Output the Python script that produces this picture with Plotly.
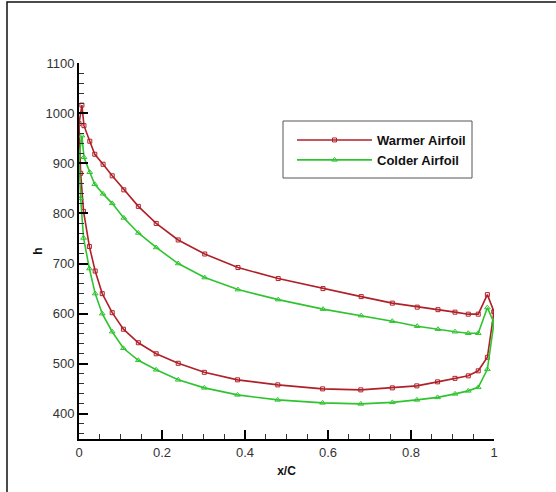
import plotly.graph_objects as go

# Upper surface: trailing edge -> leading edge
x_upper = [1.0, 0.984, 0.962, 0.938, 0.906, 0.865, 0.815, 0.755, 0.680, 0.588, 0.480, 0.383,
           0.303, 0.239, 0.186, 0.143, 0.108, 0.080, 0.058, 0.038, 0.026, 0.012, 0.007, 0.0]
warm_upper = [604, 638, 599, 599, 603, 608, 613, 621, 634, 650, 670, 692,
              719, 747, 780, 814, 847, 875, 898, 918, 944, 975, 1016, 979]
cold_upper = [582, 612, 561, 561, 564, 569, 575, 585, 596, 609, 628, 648,
              672, 700, 732, 761, 791, 820, 839, 858, 882, 912, 955, 913]

# Lower surface: leading edge -> trailing edge
x_lower = [0.004, 0.011, 0.025, 0.039, 0.056, 0.080, 0.107, 0.143, 0.186, 0.239, 0.302, 0.382,
           0.479, 0.587, 0.679, 0.755, 0.814, 0.864, 0.906, 0.938, 0.962, 0.984, 1.0]
warm_lower = [880, 804, 734, 685, 640, 602, 569, 542, 520, 501, 483, 468,
              458, 450, 448, 452, 456, 464, 471, 476, 486, 513, 604]
cold_lower = [830, 751, 690, 640, 600, 564, 531, 507, 488, 468, 452, 438,
              428, 422, 420, 423, 428, 433, 440, 446, 453, 489, 582]

series_names = ["Warmer Airfoil", "Colder Airfoil"]

RED = "#b02028"
GREEN = "#2fc42f"
FONT = "Liberation Sans, Arial, sans-serif"

fig = go.Figure()
fig.add_trace(go.Scatter(
    x=x_upper + x_lower, y=warm_upper + warm_lower, name=series_names[0],
    mode="lines+markers",
    line=dict(color=RED, width=1.6),
    marker=dict(symbol="square-open", size=4, color=RED, line=dict(width=1, color=RED)),
))
fig.add_trace(go.Scatter(
    x=x_upper + x_lower, y=cold_upper + cold_lower, name=series_names[1],
    mode="lines+markers",
    line=dict(color=GREEN, width=1.6),
    marker=dict(symbol="triangle-up-open", size=5, color=GREEN, line=dict(width=1, color=GREEN)),
))

L, R, T, B = 79, 62, 63, 53
W, H = 556, 492
pw, ph = W - L - R, H - T - B

def px2x(px):
    return (px - L) / pw

def py2y(py):
    return (H - B - py) / ph

fig.update_layout(
    width=W, height=H,
    margin=dict(l=L, r=R, t=T, b=B),
    paper_bgcolor="white", plot_bgcolor="white",
    font=dict(family=FONT, size=13, color="#222"),
    showlegend=True,
    legend=dict(
        x=px2x(292), y=py2y(125), xanchor="left", yanchor="top",
        bgcolor="rgba(0,0,0,0)", borderwidth=0,
        font=dict(family=FONT, size=13, color="#111", weight="bold"),
        itemwidth=75, tracegroupgap=0,
    ),
    xaxis=dict(
        range=[0, 1], dtick=0.2, showgrid=False, zeroline=False,
        showline=True, linecolor="black", linewidth=2,
        ticks="inside", ticklen=9, tickwidth=2, tickcolor="black",
        minor=dict(dtick=0.05, ticks="inside", ticklen=5, tickwidth=1, tickcolor="#333"),
        tickfont=dict(family=FONT, size=13, color="#333"),
        title=dict(text="<b>x/C</b>", font=dict(family=FONT, size=12, color="#111"), standoff=8),
    ),
    yaxis=dict(
        range=[350, 1100], dtick=100, showgrid=False, zeroline=False,
        showline=True, linecolor="black", linewidth=2,
        ticks="inside", ticklen=9, tickwidth=2, tickcolor="black",
        minor=dict(dtick=20, ticks="inside", ticklen=5, tickwidth=1, tickcolor="#333"),
        tickfont=dict(family=FONT, size=13, color="#333"),
        title=dict(text="<b>h</b>", font=dict(family=FONT, size=12, color="#111"), standoff=0),
    ),
    shapes=[
        # legend box
        dict(type="rect", xref="paper", yref="paper",
             x0=px2x(283), x1=px2x(472), y0=py2y(178), y1=py2y(121),
             line=dict(color="#555", width=1), fillcolor="rgba(0,0,0,0)", layer="below"),
        # outer frame
        dict(type="rect", xref="paper", yref="paper",
             x0=px2x(7), x1=px2x(W + 10), y0=py2y(H + 10), y1=py2y(2),
             line=dict(color="#111", width=1.5), fillcolor="rgba(0,0,0,0)"),
    ],
)

fig.write_html("out.html")
